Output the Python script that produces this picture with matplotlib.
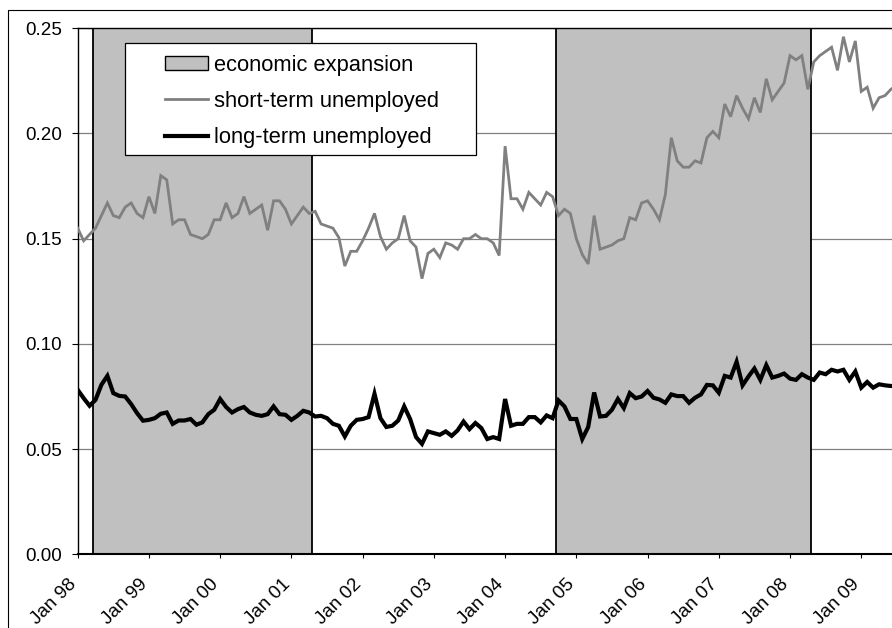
import numpy as np
import matplotlib
matplotlib.use("Agg")
import matplotlib.pyplot as plt
import matplotlib.transforms as mtransforms
from matplotlib.patches import Rectangle, Patch
from matplotlib.lines import Line2D

plt.rcParams['font.family'] = ['Liberation Sans', 'DejaVu Sans']

# ---------------- data (monthly, Jan 1998 onward) ----------------
short_term = [
    0.155, 0.149, 0.152, 0.155, 0.161, 0.167, 0.161, 0.160, 0.165, 0.167,
    0.162, 0.160, 0.170, 0.162, 0.180, 0.178, 0.157, 0.159, 0.159, 0.152,
    0.151, 0.150, 0.152, 0.159, 0.159, 0.167, 0.160, 0.162, 0.170, 0.162,
    0.164, 0.166, 0.154, 0.168, 0.168, 0.164, 0.157, 0.161, 0.165, 0.162,
    0.163, 0.157, 0.156, 0.155, 0.1505, 0.137, 0.144, 0.144, 0.149, 0.155,
    0.162, 0.151, 0.145, 0.148, 0.150, 0.161, 0.149, 0.146, 0.131, 0.143,
    0.145, 0.141, 0.148, 0.147, 0.145, 0.150, 0.150, 0.152, 0.150, 0.150,
    0.148, 0.142, 0.194, 0.169, 0.169, 0.164, 0.172, 0.169, 0.166, 0.172,
    0.170, 0.161, 0.164, 0.162, 0.150, 0.1425, 0.138, 0.161, 0.145, 0.146,
    0.147, 0.149, 0.150, 0.160, 0.159, 0.167, 0.168, 0.164, 0.159, 0.171,
    0.198, 0.187, 0.184, 0.184, 0.187, 0.186, 0.198, 0.201, 0.198, 0.214,
    0.208, 0.218, 0.212, 0.207, 0.217, 0.210, 0.226, 0.216, 0.220, 0.224,
    0.237, 0.235, 0.237, 0.221, 0.234, 0.237, 0.239, 0.241, 0.230, 0.246,
    0.234, 0.244, 0.220, 0.222, 0.212, 0.217, 0.218, 0.221, 0.223,
]
long_term = [
    0.0782, 0.0742, 0.0706, 0.0734, 0.0806, 0.0848, 0.0766, 0.0753, 0.0750, 0.0714,
    0.0671, 0.0635, 0.0639, 0.0647, 0.0668, 0.0674, 0.0620, 0.0636, 0.0636, 0.0643,
    0.0616, 0.0627, 0.0666, 0.0687, 0.0738, 0.0700, 0.0674, 0.0690, 0.0700, 0.0674,
    0.0663, 0.0658, 0.0666, 0.0703, 0.0666, 0.0663, 0.0639, 0.0658, 0.0682, 0.0674,
    0.0655, 0.0658, 0.0647, 0.0620, 0.0611, 0.0560, 0.0611, 0.0639, 0.0643, 0.0652,
    0.0763, 0.0647, 0.0605, 0.0611, 0.0636, 0.0703, 0.0643, 0.0557, 0.0525, 0.0584,
    0.0576, 0.0568, 0.0584, 0.0563, 0.0589, 0.0631, 0.0595, 0.0624, 0.0600, 0.0548,
    0.0557, 0.0548, 0.0738, 0.0611, 0.0620, 0.0620, 0.0652, 0.0652, 0.0627, 0.0660,
    0.0647, 0.0731, 0.0703, 0.0643, 0.0643, 0.0548, 0.0605, 0.0769, 0.0655, 0.0658,
    0.0687, 0.0738, 0.0695, 0.0766, 0.0742, 0.0750, 0.0776, 0.0744, 0.0736, 0.0720,
    0.0760, 0.0752, 0.0752, 0.0720, 0.0744, 0.0760, 0.0805, 0.0803, 0.0768, 0.0848,
    0.0840, 0.0915, 0.0803, 0.0845, 0.0883, 0.0829, 0.0899, 0.0840, 0.0848, 0.0859,
    0.0835, 0.0829, 0.0856, 0.0840, 0.0829, 0.0864, 0.0856, 0.0877, 0.0869, 0.0877,
    0.0829, 0.0869, 0.0792, 0.0819, 0.0792, 0.0808, 0.0803, 0.0800, 0.0800,
]
# expansion periods as month indices (0 = Jan 98), inclusive
expansion_start = [3, 81]
expansion_end = [39, 123]
tick_labels = ["Jan 98", "Jan 99", "Jan 00", "Jan 01", "Jan 02", "Jan 03",
               "Jan 04", "Jan 05", "Jan 06", "Jan 07", "Jan 08", "Jan 09"]
y_ticks = [0.00, 0.05, 0.10, 0.15, 0.20, 0.25]
legend_labels = ["economic expansion", "short-term unemployed", "long-term unemployed"]

# ---------------- layout ----------------
W, H = 892, 628
fig = plt.figure(figsize=(W / 100, H / 100), dpi=100)
ax_left_px, ax_top_px, ax_bottom_px = 77.7, 28.3, 554.3
month_px = 5.936
xmax = 139
ax_right_px = ax_left_px + xmax * month_px
ax = fig.add_axes([ax_left_px / W, 1 - ax_bottom_px / H,
                   (ax_right_px - ax_left_px) / W, (ax_bottom_px - ax_top_px) / H])

x = np.arange(len(short_term))

# outer chart border
fig.add_artist(Rectangle((8.3 / W, -0.2), 1.2, 1 - 10 / H + 0.2,
                         transform=fig.transFigure, fill=False,
                         lw=0.8, ec='black'))

# gridlines
ax.set_axisbelow(True)
ax.yaxis.grid(True, color='#808080', lw=0.9)
ax.xaxis.grid(False)

# shaded expansions
for s, e in zip(expansion_start, expansion_end):
    ax.axvspan(s - 0.5, e + 0.5, facecolor='#c0c0c0', edgecolor='none', zorder=1)
    ax.axvline(s - 0.5, color='black', lw=1.3, zorder=1.5)
    ax.axvline(e + 0.5, color='black', lw=1.3, zorder=1.5)

ax.plot(x, short_term, color='#808080', lw=2.0, zorder=3, solid_joinstyle='miter')
ax.plot(x, long_term, color='black', lw=3.0, zorder=4, solid_joinstyle='miter')

ax.set_xlim(0, xmax)
ax.set_ylim(0, 0.25)
ax.set_yticks(y_ticks)
ax.set_yticklabels([f"{v:.2f}" for v in y_ticks], fontsize=13.6)
ax.set_xticks(np.arange(len(tick_labels)) * 12)
ax.set_xticklabels(tick_labels, fontsize=13.6, rotation=45, ha='right',
                   va='top', rotation_mode='anchor')
ax.tick_params(axis='y', direction='out', length=4.3, width=0.8, pad=7)
ax.tick_params(axis='x', direction='out', length=3.0, width=0.8, pad=3)
offset = mtransforms.ScaledTranslation(-10 / 100, -13 / 100, fig.dpi_scale_trans)
for lab in ax.get_xticklabels():
    lab.set_transform(lab.get_transform() + offset)

for side in ['left', 'top']:
    ax.spines[side].set_linewidth(1.0)
    ax.spines[side].set_color('black')
ax.spines['bottom'].set_linewidth(1.5)
ax.spines['right'].set_visible(False)

# legend box
ax.add_patch(Rectangle((124.7 / W, 1 - 154.7 / H), (476 - 124.7) / W, (154.7 - 43) / H,
                       transform=fig.transFigure, facecolor='white', edgecolor='black',
                       lw=0.9, zorder=6, clip_on=False))
handles = [Patch(facecolor='#c0c0c0', edgecolor='black', lw=1.0),
           Line2D([], [], color='#808080', lw=2.0),
           Line2D([], [], color='black', lw=3.0)]
leg = ax.legend(handles, legend_labels, loc='upper left',
                bbox_to_anchor=(165 / W, 1 - 54.5 / H), bbox_transform=fig.transFigure,
                frameon=False, fontsize=15.75, borderpad=0, borderaxespad=0,
                handlelength=1.95, handleheight=0.65, handletextpad=0.28,
                labelspacing=0.70)
leg.set_zorder(7)

fig.savefig("out.png", dpi=100)
